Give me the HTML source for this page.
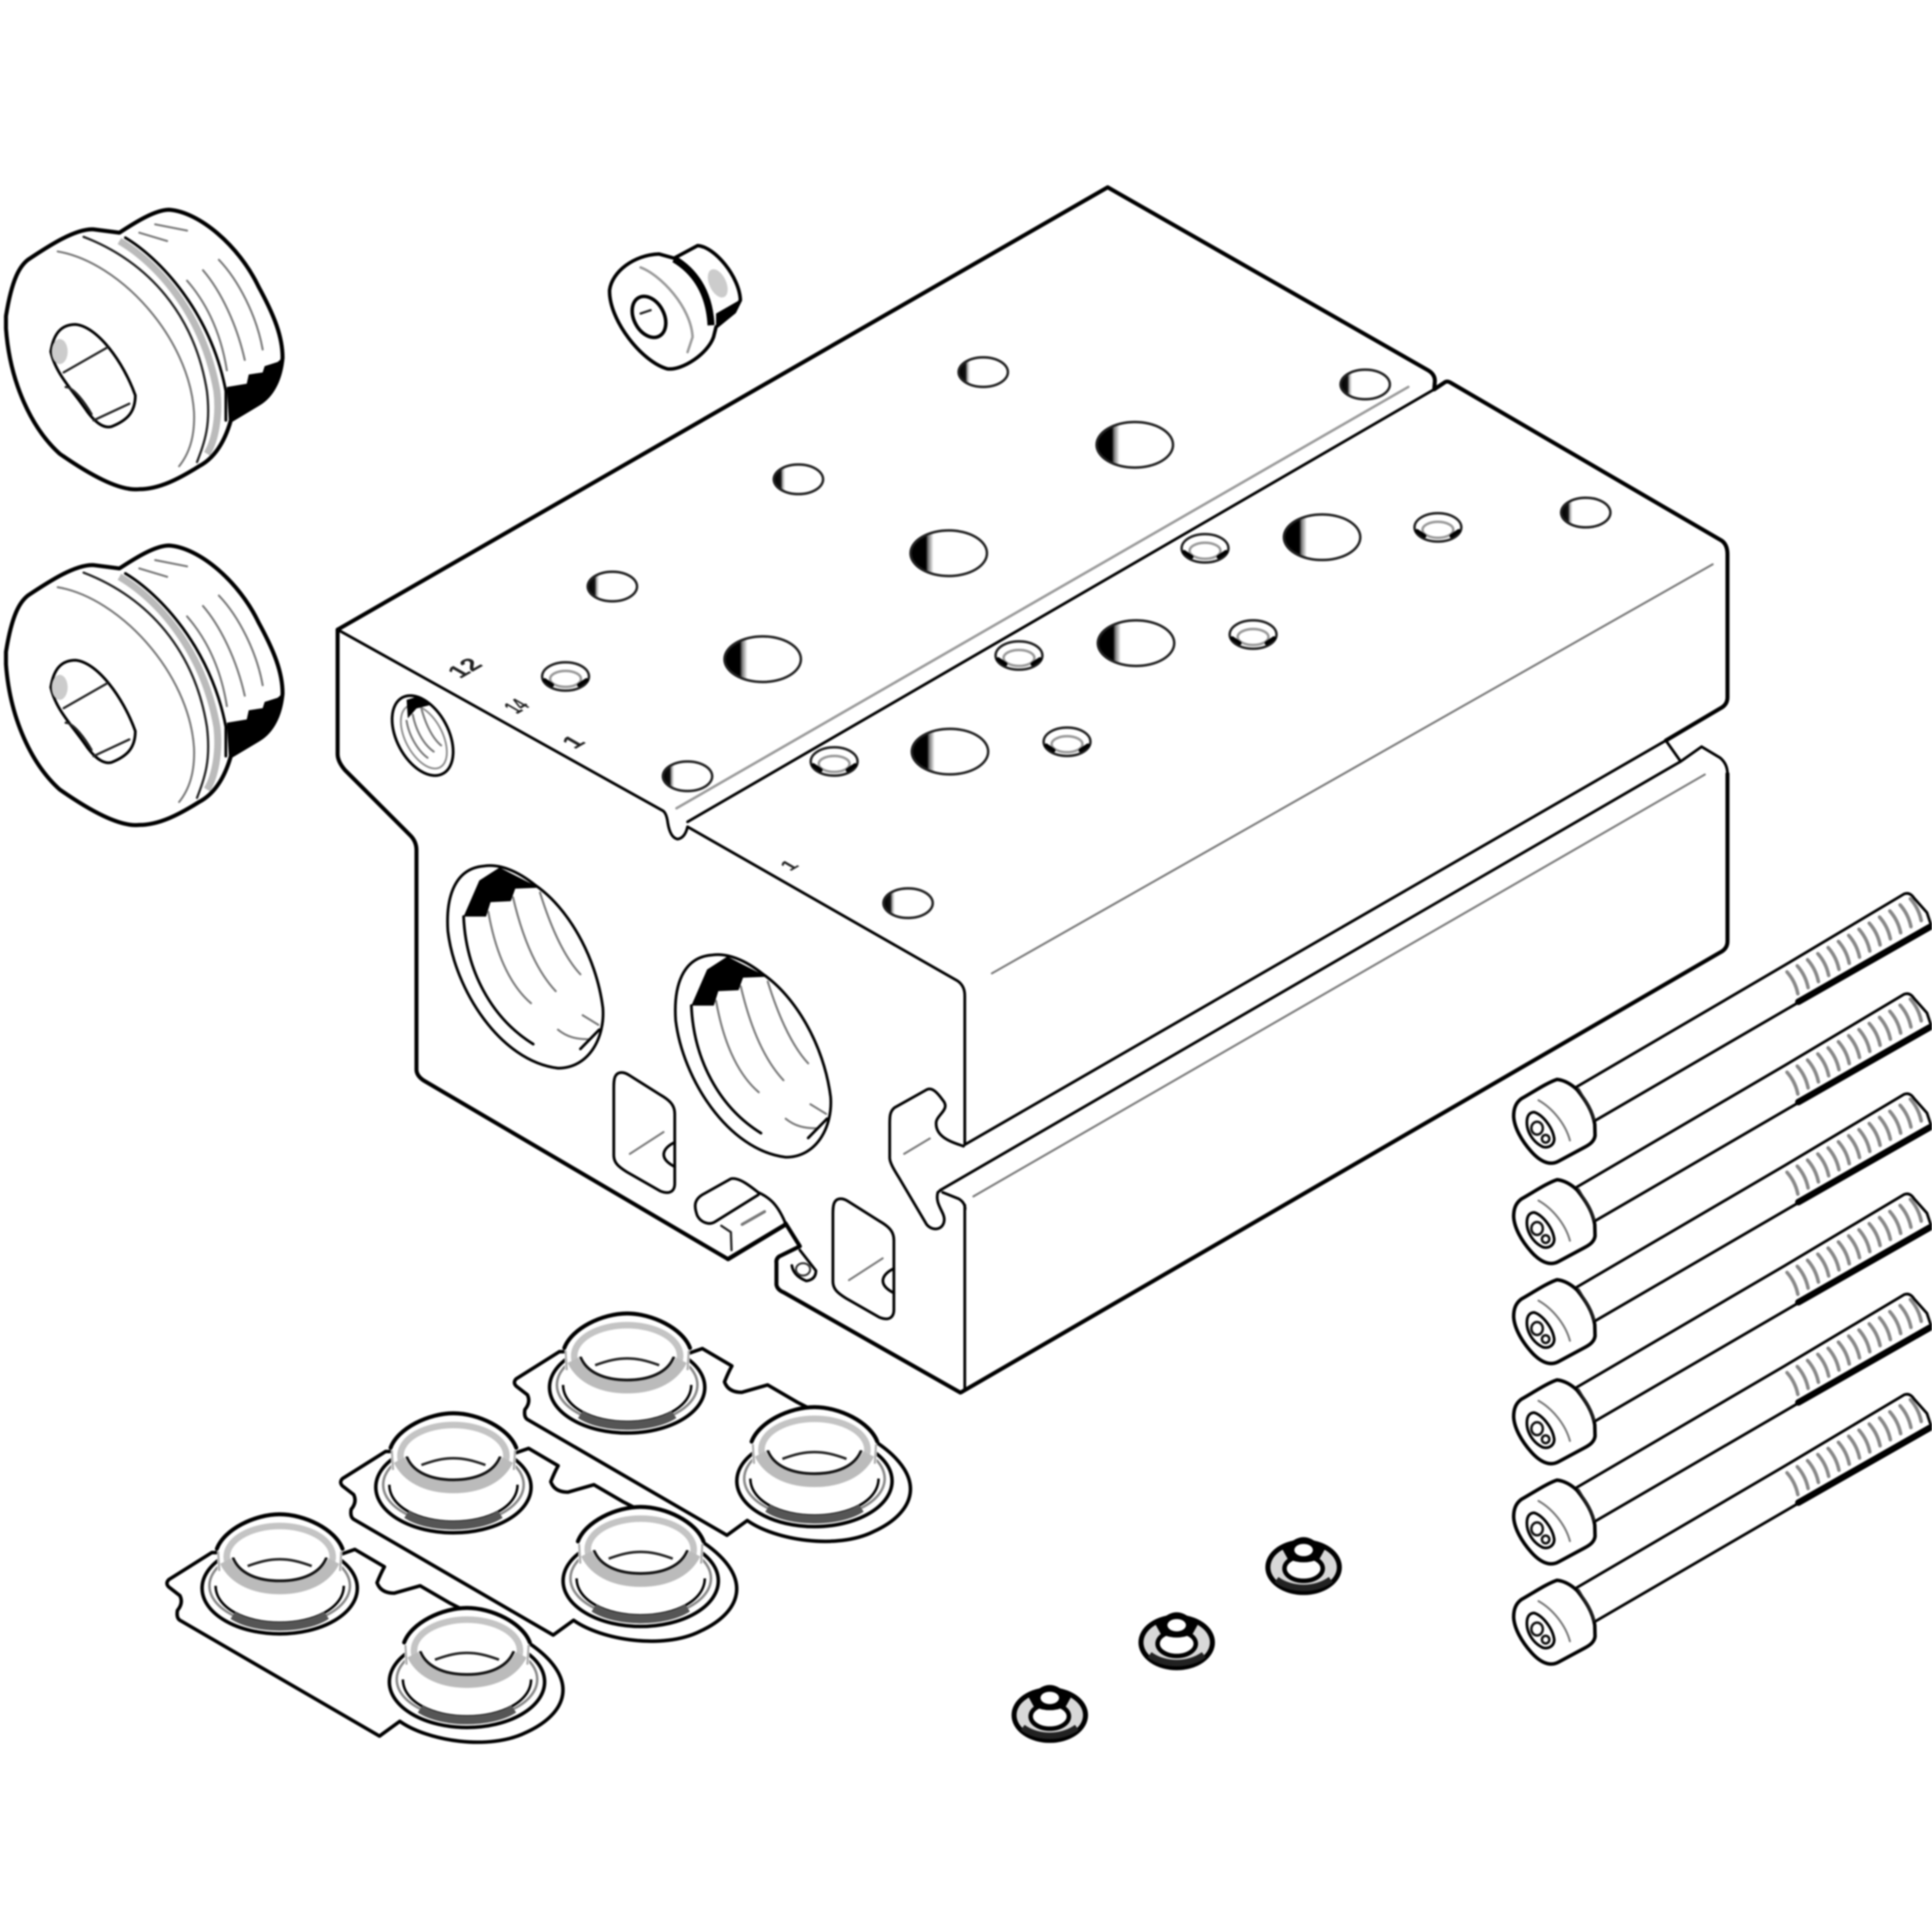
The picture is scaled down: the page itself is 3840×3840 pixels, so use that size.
<!DOCTYPE html>
<html><head><meta charset="utf-8"><style>
html,body{margin:0;padding:0;background:#fff;width:3840px;height:3840px;overflow:hidden}
svg{display:block;filter:blur(1.6px)}
svg *{vector-effect:non-scaling-stroke}
.h{fill:none;stroke:#000;stroke-width:8;stroke-linejoin:round;stroke-linecap:round}
.m{fill:none;stroke:#000;stroke-width:5.5;stroke-linejoin:round;stroke-linecap:round}
.n{fill:none;stroke:#222;stroke-width:4.5;stroke-linejoin:round;stroke-linecap:round}
.t{fill:none;stroke:#777;stroke-width:4;stroke-linejoin:round;stroke-linecap:round}
.lb{font-family:"Liberation Sans",sans-serif;font-weight:bold;font-size:20px;fill:#222;text-anchor:middle}
</style></head><body>
<svg xmlns="http://www.w3.org/2000/svg" width="3840" height="3840" viewBox="0 0 1568 1568">
<defs>
<linearGradient id="g"><stop offset="0" stop-color="#000"/><stop offset=".2" stop-color="#000"/><stop offset=".23" stop-color="#777"/><stop offset=".3" stop-color="#fff"/></linearGradient>
<linearGradient id="g2"><stop offset="0" stop-color="#000"/><stop offset=".14" stop-color="#111"/><stop offset=".18" stop-color="#aaa"/><stop offset=".23" stop-color="#fff"/></linearGradient>

<g id="lh"><ellipse rx="31" ry="18.5" fill="url(#g)" stroke="#222" stroke-width="5"/></g>
<g id="sh"><ellipse rx="20" ry="12" fill="url(#g2)" stroke="#222" stroke-width="5"/></g>
<g id="dh"><ellipse rx="19" ry="11.5" fill="#fff" stroke="#222" stroke-width="5"/><ellipse cy="2" rx="12.5" ry="6.5" fill="#fff" stroke="#999" stroke-width="5"/><path d="M-17,3 L-11,7 M17,3 L11,7" class="h"/></g>

<!-- large port drawn in zoom-1 coordinates -->
<g id="port">
<path class="m" d="M405,545 C340,550 320,610 325,680 C340,800 440,950 570,965 C640,965 675,900 670,840 C655,730 590,630 520,585 C480,555 440,540 405,545 Z"/>
<path d="M360,650 L410,650 L420,620 L465,618 L475,592 L528,590 L440,548 L395,575 Z" fill="#000"/>
<path class="m" d="M360,650 C365,760 420,860 515,915"/>
<path class="t" d="M415,640 C430,720 460,790 510,830 M470,610 C490,690 520,760 565,805 M530,600 C550,660 580,730 620,770 M570,885 C590,900 610,905 640,905 M625,855 L660,875"/>
<path class="m" d="M620,925 L662,885"/>
</g>

<!-- slot, zoom-2 coordinates -->
<g id="slot">
<path class="m" d="M370,258 C345,258 345,290 345,320 L345,580 C345,610 360,625 385,645 L490,720 C520,735 535,720 535,690 L535,420 C535,390 525,370 490,345 L395,270 C385,262 378,258 370,258 Z"/>
<path class="t" d="M395,575 L500,490"/>
<path class="m" d="M535,530 C500,550 480,590 535,625"/>
</g>

<!-- seal cup -->
<g id="cup">
<ellipse cx="0" cy="26" rx="63" ry="37" fill="#fff" stroke="#000" stroke-width="7"/>
<ellipse cx="0" cy="24" rx="57" ry="32" fill="#fff" stroke="#888" stroke-width="5"/>
<path d="M-52,24 C-52,42 -28,54 0,54 C28,54 52,42 52,24" fill="none" stroke="#000" stroke-width="5"/>
<path d="M-38,48 C-20,60 20,60 38,48" fill="none" stroke="#555" stroke-width="17"/>
<path d="M-51,-6 C-45,-22 -20,-34 0,-34 C20,-34 45,-22 51,-6 L50,26 C44,42 25,50 0,50 C-25,50 -44,42 -50,26 Z" fill="#fff" stroke="none"/>
<path class="h" d="M-51,-6 C-45,-22 -20,-34 0,-34 C20,-34 45,-22 51,-6"/>
<path d="M-50,-4 L-49,12 M50,-4 L49,12" fill="none" stroke="#aaa" stroke-width="4"/>
<ellipse cx="0" cy="0.5" rx="43" ry="25" fill="none" stroke="#c4c4c4" stroke-width="13"/>
<path d="M-44,4 C-36,20 -18,26 0,26 C18,26 36,20 44,4" fill="none" stroke="#bbb" stroke-width="24"/>
<path d="M-38,1 C-33,14 -18,20 0,20 C18,20 33,14 38,1" fill="#fff" stroke="#111" stroke-width="5.5"/>
<path d="M-38,1 C-33,-12 -18,-19 0,-19 C18,-19 33,-12 38,1 Z" fill="#fff" stroke="none"/>
<path d="M-26,8 C-15,4 -8,2.5 0,2.5 C8,2.5 15,4 26,8" fill="none" stroke="#222" stroke-width="5"/>
</g>

<!-- plate -->
<g id="plate">
<path d="M-55,-3 L-90,19 Q-93,22 -90,25 L-81,32 Q-78,38 -83,44 Q-84,50 -81,52 L81,146 L97.5,134 C120,150 170,158 200,143 C233,128 245,100 203,71 L138,38 L114,24 L93,30 Q82,30 79,21.5 Q82,14 85,8.6 L61,-5.5 L51,-2 Z" fill="#fff" stroke="#000" stroke-width="7" stroke-linejoin="round"/>
<use href="#cup"/>
<use href="#cup" x="152" y="76"/>
</g>

<!-- nipple washer -->
<g id="nip">
<ellipse cx="0" cy="1" rx="29" ry="20.5" fill="#d8d8d8" stroke="#000" stroke-width="10"/>
<path d="M-22,11 C-10,20 10,20 22,11" fill="none" stroke="#222" stroke-width="13"/>
<ellipse cx="0" cy="2" rx="15.5" ry="10" fill="#fff" stroke="#000" stroke-width="9"/>
<path d="M-18,-15 L-8,-21 Q0,-26 8,-21 L18,-15 L13,-6 Q0,0 -13,-6 Z" fill="#000"/>
<ellipse cx="0" cy="-13" rx="7.5" ry="5" fill="#fff"/>
</g>

<!-- big plug, zoom-3 coordinates -->
<g id="plug">
<path d="M30,300 C60,210 100,180 140,165 C250,130 380,90 470,92 L600,100 C680,75 780,45 850,45 C1000,50 1200,130 1300,230 C1380,300 1420,350 1420,400 C1410,450 1370,490 1300,510 L1160,550 C1130,600 1080,640 1000,660 C900,690 800,715 700,715 C600,720 450,680 300,630 C160,570 50,460 30,330 Z" fill="#fff" stroke="#000" stroke-width="8" stroke-linejoin="round"/>
<path d="M1140,470 L1240,462 L1250,440 L1320,435 L1330,420 L1395,410 L1420,400 C1410,450 1370,490 1300,510 L1150,550 Z" fill="#000"/>
<path d="M600,120 C780,170 1020,290 1090,480 C1105,540 1080,600 1040,630" fill="none" stroke="#bbb" stroke-width="14"/>
<path class="m" d="M630,112 C800,160 1060,290 1135,480 L1135,550"/>
<path class="n" d="M420,110 C750,170 980,300 1040,480 C1060,560 1030,600 990,650"/>
<path class="t" d="M290,145 C600,170 950,350 975,530 C980,590 950,630 900,660"/>
<path class="t" d="M700,100 L840,120 M780,80 L940,95 M940,215 C1040,270 1110,340 1140,430 M1020,190 C1110,240 1190,320 1230,405 M1100,165 C1200,215 1290,300 1320,380"/>
<path class="m" d="M255,385 C270,340 310,320 380,320 C490,325 620,410 680,490 C680,530 640,550 560,565 C520,570 480,555 440,530 C370,480 280,440 255,385 Z"/>
<path class="n" d="M320,435 L540,375 M330,470 C370,470 430,510 460,535 M470,550 L650,510"/>
<ellipse cx="300" cy="385" rx="40" ry="30" fill="#ccc"/>
</g>

<!-- screw, zoom-5 coordinates -->
<g id="screw">
<path d="M320,645 L1050,265 L1480,40 C1510,45 1540,80 1560,130 L1100,380 L385,750 L320,700 Z" fill="#fff" stroke="none"/>
<path class="m" d="M320,645 L1050,265 L1470,42 Q1490,35 1505,55 L1550,100 L1565,140"/>
<path class="m" d="M385,750 L1100,380"/>
<path class="t" style="stroke:#888;stroke-width:7" d="M1060,285 c20,20 32,42 38,68 m-2,-87 c20,20 32,42 38,68 m-2,-87 c20,20 32,42 38,68 m-2,-87 c20,20 32,42 38,68 m-2,-87 c20,20 32,42 38,68 m-2,-87 c20,20 32,42 38,68 m-2,-87 c20,20 32,42 38,68 m-2,-87 c20,20 32,42 38,68 m-2,-87 c20,20 32,42 38,68 m-2,-87 c20,20 32,42 38,68 m-2,-87 c20,20 32,42 38,68 m-2,-87 c20,20 32,42 38,68 m-2,-87 c20,20 32,42 38,68"/>
<path d="M1100,378 L1560,145" stroke="#000" stroke-width="13" fill="none" stroke-linecap="round"/>
<path d="M130,680 C170,660 220,630 255,620 C280,622 305,635 325,652 C355,685 380,720 387,760 L388,795 C385,815 365,825 350,832 L260,875 C225,892 190,870 165,845 C130,810 105,770 103,735 C103,708 112,692 130,680 Z" fill="#fff" stroke="#000" stroke-width="7" stroke-linejoin="round"/>
<path class="n" d="M330,650 C350,680 375,715 385,745"/>
<path class="t" d="M190,685 C240,710 285,760 300,810"/>
<path class="m" d="M175,722 C205,730 240,770 245,805 C245,825 225,835 205,830 C170,815 145,780 150,745 C152,730 162,722 175,722 Z"/>
<ellipse cx="185" cy="772" rx="20" ry="20" fill="none" stroke="#111" stroke-width="5"/>
<ellipse cx="215" cy="805" rx="13" ry="12" fill="none" stroke="#111" stroke-width="5"/>
</g>
</defs>

<rect width="1568" height="1568" fill="#fff"/>

<!-- main block -->
<path class="h" d="M274,511 L899,152 L1159,300.5 Q1165,304 1164.5,310 L1164,316"/>
<path class="h" d="M1164,316 L1173,310 Q1175,309 1178,311 L1396,438 Q1402,441 1402,450 L1402,566 Q1402,572 1396,575 L1352,601"/>
<path class="m" d="M1352,601 L1364,618 L1381,606 L1396,615 Q1402,620 1402,628"/>
<path class="h" d="M1402,628 L1402,764 Q1402,770 1396,773 L780,1130"/>
<path class="h" d="M274,511 L274,612 Q274,618 280,625 L333,678 Q338,683 338,690 L338,868 Q338,873 344,877 L591,1022 L637.5,994"/>
<path class="m" d="M1352,601 L783,929"/>
<path class="m" d="M1364,618 L763,966"/>
<path class="t" d="M1383.6,628.6 L790,971"/>
<path class="t" d="M805,790 L1390,458"/>
<path class="m" d="M274,511 L538,658 Q541,660 542,668 Q544,680 550,681 Q556,680 558,671 L777,796 Q783,800 783,808 L783,929"/>
<path class="m" d="M783,978 L783,1128"/>
<path class="m" d="M558,667 L1164,316"/>
<path class="t" style="stroke-width:5;stroke:#999" d="M549,656 L1143,314"/>

<!-- label texts -->
<text class="lb" transform="matrix(.87,-.5,.87,.5,377,542)" y="7">12</text>
<text class="lb" transform="matrix(.87,-.5,.87,.5,419,573)" y="7" textLength="13" lengthAdjust="spacingAndGlyphs">14</text>
<text class="lb" transform="matrix(.87,-.5,.87,.5,465,602)" y="7">1</text>
<text class="lb" style="font-size:16px" transform="matrix(.87,-.5,.87,.5,640,702)" y="6">1</text>

<!-- top holes -->
<use href="#lh" x="921" y="361"/><use href="#lh" x="770" y="449"/><use href="#lh" x="619" y="535"/>
<use href="#lh" x="1073" y="436"/><use href="#lh" x="922" y="522"/><use href="#lh" x="771" y="610"/>
<use href="#sh" x="798" y="302"/><use href="#sh" x="648" y="389"/><use href="#sh" x="497" y="476"/>
<use href="#sh" x="1108" y="312"/><use href="#sh" x="558" y="630"/><use href="#sh" x="737" y="733"/><use href="#sh" x="1287" y="416"/>
<use href="#dh" x="459" y="549"/><use href="#dh" x="978" y="445"/><use href="#dh" x="1167" y="428"/>
<use href="#dh" x="827" y="532"/><use href="#dh" x="1017" y="515"/><use href="#dh" x="677" y="618"/><use href="#dh" x="866" y="602"/>

<!-- small threaded side port -->
<ellipse cx="343" cy="597" rx="21" ry="35" transform="rotate(-28 343 597)" fill="#fff" stroke="#000" stroke-width="5.5"/>
<ellipse cx="344" cy="598" rx="15" ry="28" transform="rotate(-28 344 598)" fill="none" stroke="#888" stroke-width="3.5"/>
<path class="t" d="M335,580 C338,595 345,605 352,610 M342,575 C346,590 352,600 358,605 M330,585 C332,598 340,610 347,615"/>
<path d="M330,568 L340,565 L350,572 L338,575 L331,583 Z" fill="#000"/>

<!-- zoom-1 coordinate details -->
<g transform="translate(245,490) scale(.3646,.3906)">
<use href="#port"/>
<use href="#port" transform="translate(507,185)"/>
</g>

<!-- zoom-2 coordinate details -->
<g transform="translate(408.3,816.7) scale(.2604,.2083)">
<use href="#slot"/>
<use href="#slot" transform="translate(683,492)"/>
<path class="m" d="M1435,545 C1400,530 1345,510 1350,450 C1355,420 1395,400 1370,365 C1350,330 1335,315 1320,325 L1220,395 C1205,410 1205,430 1205,460 L1205,590 C1205,610 1220,640 1235,670 L1320,850 C1340,880 1375,870 1375,830 C1375,800 1345,770 1355,725 L1365,715"/>
<path class="t" d="M1250,575 L1330,515"/>
<path class="m" d="M1370,725 L1420,750 Q1440,765 1440,790"/>
<path class="m" d="M800,730 C770,700 735,665 710,672 L620,735 C595,755 595,780 605,815 C615,840 640,855 660,840 L795,735"/>
<path class="m" d="M795,725 C830,745 855,770 880,845"/>
<path class="h" d="M880,845 L925,935 L860,975 Q850,985 852,1000 L852,1085 Q855,1105 875,1115 L1425,1505"/>
<path class="h" d="M700,985 L880,850"/>
<path class="n" d="M680,855 L710,880 L712,950"/>
<path class="t" style="stroke-width:6" d="M745,850 L815,800"/>
<path class="m" d="M925,950 L975,1030 Q975,1065 945,1070 Q905,1050 900,1010"/>
<ellipse cx="935" cy="1025" rx="22" ry="24" fill="none" stroke="#333" stroke-width="4"/>
</g>

<!-- small plug -->
<g transform="translate(481.8,183.7) scale(.1361)">
<path d="M95,380 C110,270 240,170 390,165 L480,190 L620,115 C720,120 870,300 875,440 L840,510 L730,600 L715,660 C680,760 530,860 440,850 C290,810 90,560 95,380 Z" fill="#fff" stroke="#000" stroke-width="7" stroke-linejoin="round"/>
<path d="M480,195 C590,260 690,380 700,590" fill="none" stroke="#000" stroke-width="14"/>
<path d="M730,520 L870,440 L840,510 L730,600 Z" fill="#000"/>
<ellipse cx="740" cy="340" rx="50" ry="90" fill="#ccc" transform="rotate(-25 740 340)"/>
<path class="t" style="stroke-width:5;stroke:#999" d="M280,245 C400,290 580,480 590,660 L560,750"/>
<ellipse cx="330" cy="540" rx="90" ry="130" transform="rotate(-28 330 540)" fill="#fff" stroke="#000" stroke-width="7"/>
<path class="n" d="M280,520 L340,500"/>
</g>

<!-- big plugs -->
<g transform="translate(0,155) scale(.1615,.3385)"><use href="#plug"/></g>
<g transform="translate(0,427.5) scale(.1615,.3385)"><use href="#plug"/></g>

<!-- seal plates -->
<use href="#plate" x="509" y="1100"/>
<use href="#plate" x="368" y="1181"/>
<use href="#plate" x="227" y="1263"/>

<!-- washers -->
<use href="#nip" x="1058" y="1271"/>
<use href="#nip" x="955" y="1332"/>
<use href="#nip" x="852" y="1391"/>

<!-- screws -->
<g transform="translate(1204.6,714.6) scale(.2318,.2604)"><use href="#screw"/></g>
<g transform="translate(1204.6,796) scale(.2318,.2604)"><use href="#screw"/></g>
<g transform="translate(1204.6,877.2) scale(.2318,.2604)"><use href="#screw"/></g>
<g transform="translate(1204.6,958.5) scale(.2318,.2604)"><use href="#screw"/></g>
<g transform="translate(1204.6,1039.8) scale(.2318,.2604)"><use href="#screw"/></g>
<g transform="translate(1204.6,1121.1) scale(.2318,.2604)"><use href="#screw"/></g>
</svg>
</body></html>
